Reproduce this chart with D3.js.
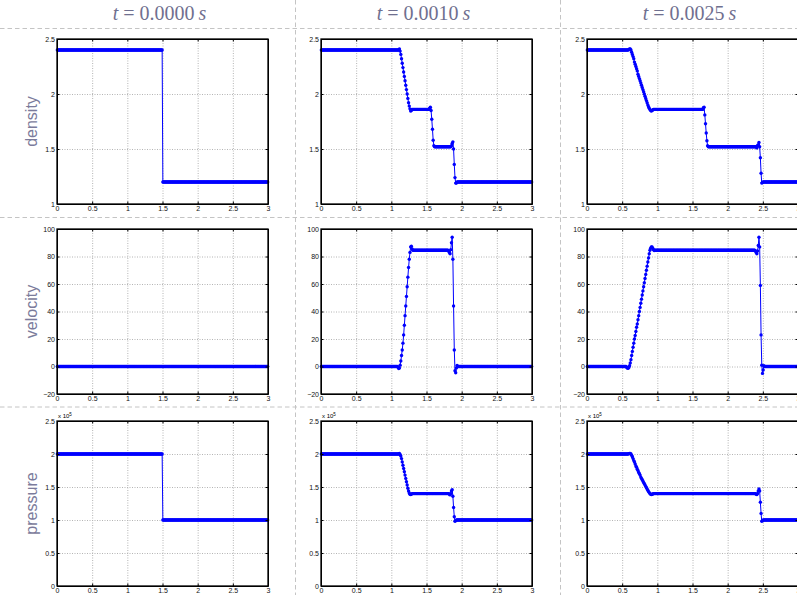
<!DOCTYPE html>
<meta charset="utf-8">
<style>
    body { margin: 0; background: #fff; }
    .axis text { font: 7px "Liberation Sans", Arial, sans-serif; fill: #111; }
    .axis path, .axis line { stroke: #000; }
    .grid line { stroke: #b4b4b4; stroke-dasharray: 1,1.5; }
    .grid path { display: none; }
    .sep { stroke: #c4c4c4; stroke-dasharray: 4.5,3; }
    .header { font: 20px "Liberation Serif", "DejaVu Serif", serif; fill: #6f6f8f; }
    .rowlabel { font: 16px "Liberation Sans", Arial, sans-serif; fill: #7b7b9b; }
</style>
<body>
<div id="chart"></div>
<script src="https://d3js.org/d3.v7.min.js"></script>
<script>
    var width = 797,
        height = 595

    var times = ["0.0000", "0.0010", "0.0025"];
    var quantities = ["density", "velocity", "pressure"];
    var xTicks = [0, 0.5, 1, 1.5, 2, 2.5, 3];
    var densityTicks = [1, 1.5, 2, 2.5];
    var velocityTicks = [-20, 0, 20, 40, 60, 80, 100];
    var pressureTicks = [0, 0.5, 1, 1.5, 2, 2.5];   // x 10^5

    // 300 cells on [0,3]; [n, v] means n equal samples, a plain number is one sample
    var dx = 0.01;

    var density0 = [[150, 2.4], [150, 1.2]];
    var velocity0 = [[300, 0]];
    var pressure0 = [[150, 2.0], [150, 1.0]];

    var density1 = [[111, 2.40], 2.41, 2.39, 2.36, 2.32, 2.28, 2.24, 2.20, 2.16, 2.12, 2.08, 2.04, 2.00,
        1.96, 1.92, 1.89, 1.865, 1.845, 1.85, [25, 1.86], 1.87, 1.88, 1.85, 1.77, 1.68, 1.58, 1.53,
        [24, 1.52], 1.53, 1.55, 1.565, 1.50, 1.36, 1.24, 1.19, 1.19, [107, 1.20]];
    var velocity1 = [[109, 0], -0.5, -1.5, -1, 1, 4, 8, 12, 17, 23, 30, 37, 44, 51, 58, 65, 72, 78, 83,
        87, 87.5, 85.5, 84.5, [50, 84.5], 84, 83, 82, 85, 90, 94, 78, 44, 12, -3, -4.5, -1, 0.8, [106, 0]];
    var pressure1 = [[111, 2.0], 2.01, 1.99, 1.97, 1.93, 1.88, 1.83, 1.78, 1.73, 1.68, 1.63, 1.58, 1.53,
        1.48, 1.44, 1.41, 1.39, 1.385, 1.39, [53, 1.40], 1.39, 1.38, 1.40, 1.44, 1.46, 1.36, 1.19, 1.05,
        0.98, 0.99, [108, 1.0]];

    var density2 = [[59, 2.40], 2.405, 2.41, 2.41, 2.40, 2.38, 2.36, 2.34, 2.32, 2.29, 2.27, 2.25, 2.23,
        2.21, 2.18, 2.16, 2.14, 2.12, 2.10, 2.08, 2.06, 2.04, 2.02, 2.00, 1.98, 1.96, 1.94, 1.92, 1.90,
        1.885, 1.87, 1.86, 1.85, 1.845, 1.85, 1.855, [71, 1.86], 1.875, 1.88, 1.81, 1.73, 1.645, 1.575,
        1.53, [69, 1.52], 1.51, 1.53, 1.54, 1.56, 1.52, 1.42, 1.28, 1.19, 1.195, [50, 1.20]];
    var velocity2 = [[56, 0], -0.5, -1.2, -1.3, -0.8, 0.5, 2.5, 5, 8, 11, 14, 17, 20, 22.5, 25.5, 28.5,
        31, 34, 37, 40, 43, 46, 49, 52, 55, 58, 61, 64, 67, 70, 73, 76, 79, 82, 84.5, 86, 87, 87, 86, 85,
        84.3, [143, 84.5], 84, 83, 82, 84, 88, 94, 87, 59, 23, 1, -5, -2.5, 0.6, [48, 0]];
    var pressure2 = [[59, 2.0], 2.005, 2.01, 2.01, 2.0, 1.98, 1.96, 1.93, 1.90, 1.88, 1.85, 1.82, 1.80,
        1.77, 1.75, 1.72, 1.70, 1.68, 1.65, 1.63, 1.61, 1.59, 1.57, 1.55, 1.53, 1.51, 1.49, 1.47, 1.45,
        1.43, 1.415, 1.40, 1.39, 1.385, 1.39, 1.395, [146, 1.40], 1.39, 1.385, 1.40, 1.44, 1.47, 1.44,
        1.27, 1.10, 0.98, 0.99, [50, 1.0]];

    var series = [
        [density0, density1, density2],
        [velocity0, velocity1, velocity2],
        [pressure0, pressure1, pressure2]
    ];
    var yTicks = [densityTicks, velocityTicks, pressureTicks];

    function expand(runs) {
        var vals = [];
        runs.forEach(function (r) {
            if (Array.isArray(r)) {
                for (var k = 0; k < r[0]; k++) vals.push(r[1]);
            } else {
                vals.push(r);
            }
        });
        return vals.map(function (v, i) { return { x: (i + 0.5) * dx, y: v }; });
    }

    // layout
    var colLeft = [57, 321, 587],
        rowTop = [39, 229, 421],
        pw = 211,
        ph = 165

    var svg = d3.select('#chart').append("svg")
        .attr("width", width)
        .attr("height", height);

    // dashed separators
    [28.5, 217.5, 407].forEach(function (y) {
        svg.append("line").attr("class", "sep")
            .attr("x1", 0).attr("x2", width).attr("y1", y).attr("y2", y);
    });
    [295.5, 560.5].forEach(function (x) {
        svg.append("line").attr("class", "sep")
            .attr("x1", x).attr("x2", x).attr("y1", 0).attr("y2", height);
    });

    // column headers
    times.forEach(function (t, c) {
        var txt = svg.append("text").attr("class", "header")
            .attr("x", colLeft[c] + pw / 2 - 3)
            .attr("y", 20)
            .attr("text-anchor", "middle");
        txt.append("tspan").style("font-style", "italic").text("t");
        txt.append("tspan").text(" = " + t + "\u2009");
        txt.append("tspan").style("font-style", "italic").text("s");
    });

    // row labels
    quantities.forEach(function (q, r) {
        var cy = rowTop[r] + ph / 2;
        svg.append("text").attr("class", "rowlabel")
            .attr("transform", "translate(37," + cy + ") rotate(-90)")
            .attr("text-anchor", "middle")
            .text(q);
    });

    var x = d3.scaleLinear().domain([0, 3]).range([0, pw]);

    for (var r = 0; r < 3; r++) {
        var ticks = yTicks[r];
        var y = d3.scaleLinear().domain(d3.extent(ticks)).range([ph, 0]);

        for (var c = 0; c < 3; c++) {
            var g = svg.append("g")
                .attr("transform", "translate(" + colLeft[c] + "," + rowTop[r] + ")");

            // grid
            g.append("g").attr("class", "grid")
                .attr("transform", "translate(0," + ph + ")")
                .call(d3.axisBottom(x).tickValues(xTicks.slice(1, -1)).tickSize(-ph).tickFormat(""));
            g.append("g").attr("class", "grid")
                .call(d3.axisLeft(y).tickValues(ticks.slice(1, -1)).tickSize(-pw).tickFormat(""));

            // data
            var pts = expand(series[r][c]);
            g.append("path")
                .datum(pts)
                .attr("fill", "none")
                .attr("stroke", "#0000ff")
                .attr("stroke-width", 1)
                .attr("d", d3.line().x(function (d) { return x(d.x); }).y(function (d) { return y(d.y); }));
            g.append("g").selectAll("circle")
                .data(pts)
                .enter().append("circle")
                .attr("cx", function (d) { return x(d.x); })
                .attr("cy", function (d) { return y(d.y); })
                .attr("r", 1.7)
                .attr("fill", "#0000ff");

            // axes with inward ticks
            g.append("g").attr("class", "axis")
                .attr("transform", "translate(0," + ph + ")")
                .call(d3.axisBottom(x).tickValues(xTicks).tickFormat(d3.format("")).tickSizeInner(-2.5).tickSizeOuter(0).tickPadding(2));
            g.append("g").attr("class", "axis")
                .call(d3.axisLeft(y).tickValues(ticks).tickFormat(d3.format("")).tickSizeInner(-2.5).tickSizeOuter(0).tickPadding(2));
            g.append("g").attr("class", "axis")
                .call(d3.axisTop(x).tickValues(xTicks).tickFormat("").tickSizeInner(-2.5).tickSizeOuter(0));
            g.append("g").attr("class", "axis")
                .attr("transform", "translate(" + pw + ",0)")
                .call(d3.axisRight(y).tickValues(ticks).tickFormat("").tickSizeInner(-2.5).tickSizeOuter(0));

            g.append("rect")
                .attr("width", pw).attr("height", ph)
                .attr("fill", "none")
                .attr("stroke", "#000")
                .attr("stroke-width", 1.3);

            if (r == 2) {
                var ex = g.append("text")
                    .attr("x", 1).attr("y", -3)
                    .style("font", "6px 'Liberation Sans', Arial, sans-serif")
                    .text("x 10");
                ex.append("tspan").attr("dy", -2.5).style("font-size", "4.5px").text("5");
            }
        }
    }
</script>
</body>
